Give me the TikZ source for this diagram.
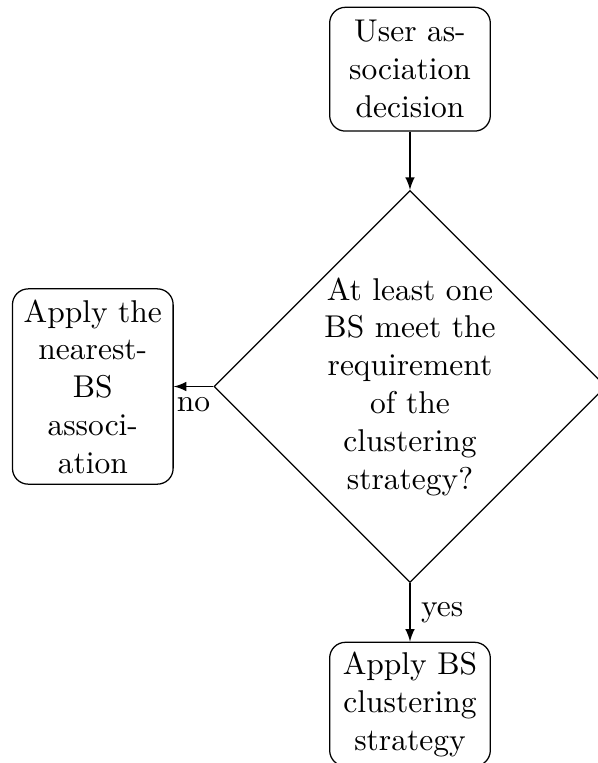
\documentclass[tikz,border=0pt]{standalone}
\usetikzlibrary{shapes.geometric,arrows}
\begin{document}
\begin{tikzpicture}[x=0.31746pt,y=-0.31746pt,
  blockbox/.style={rectangle,draw,rounded corners=5pt,align=center,
    minimum width=51pt,minimum height=39.3pt,inner sep=2pt},
  decisionbox/.style={diamond,draw,aspect=1,inner sep=0pt,align=center,
    minimum width=124.4pt,minimum height=124.4pt},
  conn/.style={draw,-latex}]
\useasboundingbox (0,0) rectangle (598,763);
\node[blockbox] (user) at (410,69.2) {User as-\\sociation\\decision};
\node[decisionbox] (dec) at (410,386.5) {At least one\\BS meet the\\requirement\\of the\\clustering\\strategy?};
\node[blockbox,minimum height=62pt] (near) at (92.8,386.5) {Apply the\\nearest-\\BS\\associ-\\ation};
\node[blockbox] (clus) at (410,704.2) {Apply BS\\clustering\\strategy};
\draw[conn] (user) -- (dec);
\draw[conn] (dec.west) -- node[below] {no} (near);
\draw[conn] (dec.south) -- node[right] {yes} (clus);
\end{tikzpicture}
\end{document}
